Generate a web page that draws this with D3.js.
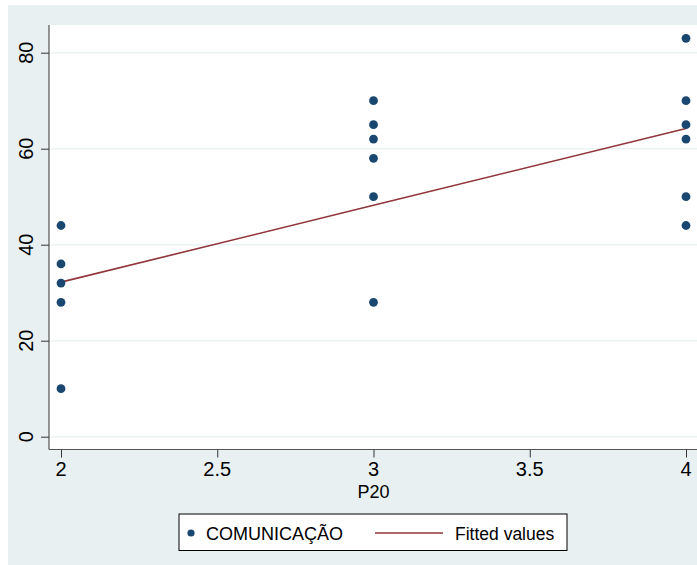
<!DOCTYPE html>
<html>
<head>
<meta charset="utf-8">
<script src="https://cdn.jsdelivr.net/npm/d3@7"></script>
<style>
  html, body { margin: 0; padding: 0; background: #ffffff; }
  svg { display: block; }
  text { font-family: "Liberation Sans", Arial, sans-serif; fill: #000; }
</style>
</head>
<body>
<svg id="chart" width="697" height="565"></svg>
<script>
// ---- data ----
const p20 = [2, 2, 2, 2, 2, 3, 3, 3, 3, 3, 3, 4, 4, 4, 4, 4, 4];
const comunicacao = [44, 36, 32, 28, 10, 70, 65, 62, 58, 50, 28, 83, 70, 65, 62, 50, 44];
const fittedX = [2, 3, 4];
const fittedValues = [32.2, 48.2, 64.2];
const xTicks = [2, 2.5, 3, 3.5, 4];
const yTicks = [0, 20, 40, 60, 80];
const legendLabels = ["COMUNICAÇÃO", "Fitted values"];

const svg = d3.select("#chart");
const W = 697, H = 565;

// graph region background
svg.append("rect").attr("x", 8).attr("y", 5).attr("width", W - 8).attr("height", H - 5)
  .attr("fill", "#e8f0f2");

const plot = { left: 49, top: 25, right: 697, bottom: 449.5 };

const x = d3.scaleLinear().domain([2, 4]).range([61, 686]);
const y = d3.scaleLinear().domain([0, 80]).range([436.7, 52.7]);

// plot area
svg.append("rect").attr("x", plot.left).attr("y", plot.top)
  .attr("width", plot.right - plot.left).attr("height", plot.bottom - plot.top)
  .attr("fill", "#ffffff");

// gridlines
svg.append("g").selectAll("line").data(yTicks).join("line")
  .attr("x1", plot.left).attr("x2", plot.right)
  .attr("y1", d => y(d)).attr("y2", d => y(d))
  .attr("stroke", "#eaf2f3").attr("stroke-width", 1.6);

// y axis
const yAxis = d3.axisLeft(y).tickValues(yTicks).tickSize(8).tickSizeOuter(0).tickFormat(d3.format("d"));
const gy = svg.append("g").attr("transform", `translate(${plot.left},0)`).call(yAxis);
gy.select(".domain").remove();
gy.selectAll(".tick line").attr("stroke", "#333");
gy.selectAll(".tick text").remove();
svg.append("line").attr("x1", plot.left).attr("x2", plot.left)
  .attr("y1", plot.top).attr("y2", plot.bottom).attr("stroke", "#333").attr("stroke-width", 1);
svg.append("g").selectAll("text").data(yTicks).join("text")
  .attr("transform", d => `translate(33,${y(d)}) rotate(-90)`)
  .attr("text-anchor", "middle")
  .attr("font-size", 20)
  .text(d => d);

// x axis
const xAxis = d3.axisBottom(x).tickValues(xTicks).tickSize(8).tickSizeOuter(0).tickFormat(d => d);
const gx = svg.append("g").attr("transform", `translate(0,${plot.bottom})`).call(xAxis);
gx.select(".domain").remove();
gx.selectAll(".tick line").attr("stroke", "#333");
gx.selectAll(".tick text").remove();
svg.append("line").attr("x1", plot.left).attr("x2", plot.right)
  .attr("y1", plot.bottom).attr("y2", plot.bottom).attr("stroke", "#555").attr("stroke-width", 1.2);
svg.append("g").selectAll("text").data(xTicks).join("text")
  .attr("x", d => x(d)).attr("y", 476)
  .attr("text-anchor", "middle")
  .attr("font-size", 20)
  .text(d => d);

svg.append("text").attr("x", x(3)).attr("y", 498)
  .attr("text-anchor", "middle").attr("font-size", 18).text("P20");

// fitted line
const line = d3.line().x(d => x(d[0])).y(d => y(d[1]));
svg.append("path").datum(fittedX.map((v, i) => [v, fittedValues[i]]))
  .attr("d", line).attr("fill", "none")
  .attr("stroke", "#90353b").attr("stroke-width", 1.6);

// scatter
svg.append("g").selectAll("circle").data(p20.map((v, i) => [v, comunicacao[i]])).join("circle")
  .attr("cx", d => x(d[0])).attr("cy", d => y(d[1])).attr("r", 4.4)
  .attr("fill", "#1a476f");

// legend
const lg = svg.append("g");
lg.append("rect").attr("x", 179).attr("y", 514).attr("width", 388).attr("height", 36.5)
  .attr("fill", "#fff").attr("stroke", "#000").attr("stroke-width", 1);
lg.append("circle").attr("cx", 191).attr("cy", 533).attr("r", 3.6).attr("fill", "#1a476f");
lg.append("text").attr("x", 206).attr("y", 540).attr("font-size", 18).text(legendLabels[0]);
lg.append("line").attr("x1", 375).attr("x2", 443).attr("y1", 533).attr("y2", 533)
  .attr("stroke", "#90353b").attr("stroke-width", 1.6);
lg.append("text").attr("x", 455).attr("y", 540).attr("font-size", 17.5).text(legendLabels[1]);
</script>
</body>
</html>
